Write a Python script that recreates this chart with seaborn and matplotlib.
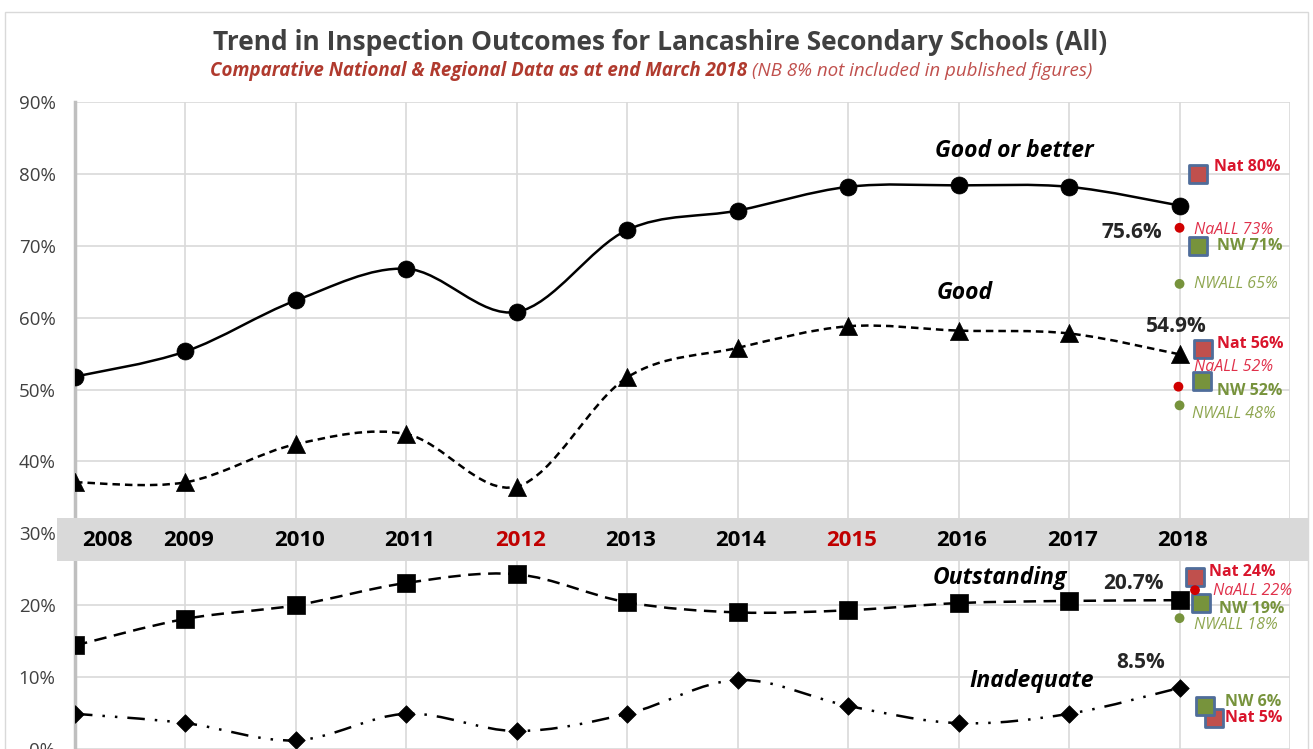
import numpy as np
import pandas as pd
import matplotlib
matplotlib.use("Agg")
import matplotlib.pyplot as plt
import seaborn as sns
from matplotlib.path import Path
from matplotlib.patches import PathPatch, Rectangle

# ---------------- data ----------------
years = [2008, 2009, 2010, 2011, 2012, 2013, 2014, 2015, 2016, 2017, 2018]
year_labels = ["2008", "2009", "2010", "2011", "2012", "2013", "2014", "2015", "2016", "2017", "2018"]
red_years = ["2012", "2015"]
good_or_better = [51.8, 55.3, 62.4, 66.8, 60.8, 72.2, 74.9, 78.2, 78.4, 78.2, 75.6]
good = [37.1, 37.1, 42.4, 43.8, 36.5, 51.7, 55.8, 58.8, 58.2, 57.8, 54.9]
outstanding = [14.4, 18.1, 20.0, 23.1, 24.3, 20.4, 19.0, 19.3, 20.3, 20.6, 20.7]
inadequate = [4.9, 3.6, 1.2, 4.9, 2.5, 4.9, 9.6, 6.0, 3.6, 4.9, 8.5]

# comparison markers (2018)
nat_vals = [80.0, 55.7, 23.9, 4.3]
nat_labels = ["Nat 80%", "Nat 56%", "Nat 24%", "Nat 5%"]
nw_vals = [70.0, 51.2, 20.3, 6.0]
nw_labels = ["NW 71%", "NW 52%", "NW 19%", "NW 6%"]
naall_vals = [72.5, 50.4, 22.1]
naall_labels = ["NaALL 73%", "NaALL 52%", "NaALL 22%"]
nwall_vals = [64.7, 47.8, 18.2]
nwall_labels = ["NWALL 65%", "NWALL 48%", "NWALL 18%"]
yticks = [0, 10, 20, 30, 40, 50, 60, 70, 80, 90]

# ---------------- style ----------------
sns.set_theme(style="whitegrid")
plt.rcParams['font.family'] = ['Open Sans', 'DejaVu Sans']

W, H = 1313, 749
fig = plt.figure(figsize=(W / 100, H / 100), dpi=100)
ax = fig.add_axes([75 / W, 0, 1215 / W, 1 - 102 / H])
ax.set_xlim(2008, 2019)
ax.set_ylim(0, 90)
ax.set_facecolor("white")
ax.grid(True, color="#d9d9d9", lw=1.2)
ax.set_xticks(range(2008, 2020))
ax.set_xticklabels([])
ax.tick_params(axis="x", length=0)
ax.set_yticks(yticks)
ax.set_yticklabels([f"{v}%" for v in yticks], fontsize=13.5, color="#404040")
ax.tick_params(axis="y", length=0, pad=14)
for s in ["top", "right", "bottom"]:
    ax.spines[s].set_visible(False)
ax.spines["left"].set_color("#bfbfbf")
ax.spines["left"].set_linewidth(2.5)


def smooth(xs, ys):
    n = len(xs)
    verts = [(xs[0], ys[0])]
    codes = [Path.MOVETO]
    for i in range(n - 1):
        a = i - 1 if i > 0 else i
        d = i + 2 if i + 2 < n else i + 1
        c1 = (xs[i] + (xs[i + 1] - xs[a]) / 6, ys[i] + (ys[i + 1] - ys[a]) / 6)
        c2 = (xs[i + 1] - (xs[d] - xs[i]) / 6, ys[i + 1] - (ys[d] - ys[i]) / 6)
        verts += [c1, c2, (xs[i + 1], ys[i + 1])]
        codes += [Path.CURVE4] * 3
    return Path(verts, codes)


series = [
    (good_or_better, "-", "o", 150),
    (good, (0, (3, 2)), "^", 170),
    (outstanding, (0, (5, 3)), "s", 170),
    (inadequate, (0, (7, 4, 1, 4, 1, 4)), "D", 80),
]
for vals, ls, mk, sz in series:
    ax.add_patch(PathPatch(smooth(years, vals), fill=False, lw=1.8,
                           linestyle=ls, edgecolor="black", zorder=3))
    df = pd.DataFrame({"year": years, "value": vals})
    sns.scatterplot(data=df, x="year", y="value", marker=mk, s=sz,
                    color="black", edgecolor="black", linewidth=0.5,
                    ax=ax, zorder=4, legend=False)
ax.set_xlabel("")
ax.set_ylabel("")

# gray band with year labels
band = Rectangle((-18 / 1215, 26.1), 1 + 36 / 1215, 6.1,
                 transform=ax.get_yaxis_transform(), facecolor="#d9d9d9",
                 edgecolor="none", clip_on=False, zorder=5)
ax.add_patch(band)
for i, (yr, lab) in enumerate(zip(years, year_labels)):
    off = 0.29 if i == 0 else 0.03
    ax.text(yr + off, 29.0, lab, ha="center", va="center", fontsize=16,
            fontweight="bold", color="#c00000" if lab in red_years else "black",
            zorder=6)

# series names
name_kw = dict(fontsize=16.5, fontweight="bold", fontstyle="italic",
               ha="left", va="center", color="black")
ax.text(2015.79, 83.2, "Good or better", **name_kw)
ax.text(2015.80, 63.5, "Good", **name_kw)
ax.text(2015.76, 23.75, "Outstanding", **name_kw)
ax.text(2016.10, 9.44, "Inadequate", **name_kw)

# value labels
val_kw = dict(fontsize=15, fontweight="bold", ha="center", va="center")
ax.text(2017.57, 71.8, f"{good_or_better[-1]:.1f}%", **val_kw)
ax.text(2017.97, 58.75, f"{good[-1]:.1f}%", **val_kw)
ax.text(2017.58, 23.05, f"{outstanding[-1]:.1f}%", **val_kw)
ax.text(2017.65, 12.1, f"{inadequate[-1]:.1f}%", **val_kw)

# comparison markers
nat_x = [2018.17, 2018.21, 2018.14, 2018.31]
nw_x = [2018.17, 2018.20, 2018.19, 2018.23]
naall_x = [2018.0, 2017.99, 2018.14]
nwall_x = [2018.0, 2018.0, 2018.0]
sns.scatterplot(x=nat_x, y=nat_vals, marker="s", s=170, color="#c0504d",
                edgecolor="#4f6d9a", linewidth=2, ax=ax, zorder=7, legend=False)
sns.scatterplot(x=nw_x, y=nw_vals, marker="s", s=170, color="#77933c",
                edgecolor="#4f6d9a", linewidth=2, ax=ax, zorder=7, legend=False)
sns.scatterplot(x=naall_x, y=naall_vals, marker="o", s=50, color="#d00000",
                edgecolor="none", ax=ax, zorder=7, legend=False)
sns.scatterplot(x=nwall_x, y=nwall_vals, marker="o", s=50, color="#77933c",
                edgecolor="none", ax=ax, zorder=7, legend=False)

nat_lpos = [(2018.31, 81.0), (2018.34, 56.4), (2018.27, 24.6), (2018.41, 4.3)]
nw_lpos = [(2018.34, 69.9), (2018.34, 49.8), (2018.36, 19.5), (2018.41, 6.5)]
naall_lpos = [(2018.13, 72.2), (2018.13, 53.2), (2018.30, 22.0)]
nwall_lpos = [(2018.13, 64.7), (2018.11, 46.6), (2018.13, 17.2)]
cmp_fs = 11.5
for (x, y), t in zip(nat_lpos, nat_labels):
    ax.text(x, y, t, fontsize=cmp_fs, fontweight="bold", color="#d9142b",
            ha="left", va="center", zorder=8)
for (x, y), t in zip(nw_lpos, nw_labels):
    ax.text(x, y, t, fontsize=cmp_fs, fontweight="bold", color="#77933c",
            ha="left", va="center", zorder=8)
for (x, y), t in zip(naall_lpos, naall_labels):
    ax.text(x, y, t, fontsize=cmp_fs, fontstyle="italic", color="#e0304a",
            ha="left", va="center", zorder=8)
for (x, y), t in zip(nwall_lpos, nwall_labels):
    ax.text(x, y, t, fontsize=cmp_fs, fontstyle="italic", color="#8ea64f",
            ha="left", va="center", zorder=8)

# titles
fig.text(660 / W, 1 - 43 / H,
         "Trend in Inspection Outcomes for Lancashire Secondary Schools (All)",
         fontsize=19, fontweight="bold", color="#404040", ha="center", va="center")
t1 = fig.text(210 / W, 1 - 71 / H, "Comparative National & Regional Data as at end March 2018",
              fontsize=13.5, fontweight="bold", fontstyle="italic", color="#b03a2e",
              ha="left", va="center")
fig.canvas.draw()
bb = t1.get_window_extent()
fig.text(bb.x1 / W + 5 / W, 1 - 71 / H, "(NB 8% not included in published figures)",
         fontsize=13.5, fontstyle="italic", color="#c0504d", ha="left", va="center")

# outer border
fig.add_artist(Rectangle((5 / W, -0.01), 1303 / W, 1 - 12 / H + 0.01,
                         transform=fig.transFigure, fill=False,
                         edgecolor="#d9d9d9", lw=1))

fig.savefig("out.png", dpi=100)
